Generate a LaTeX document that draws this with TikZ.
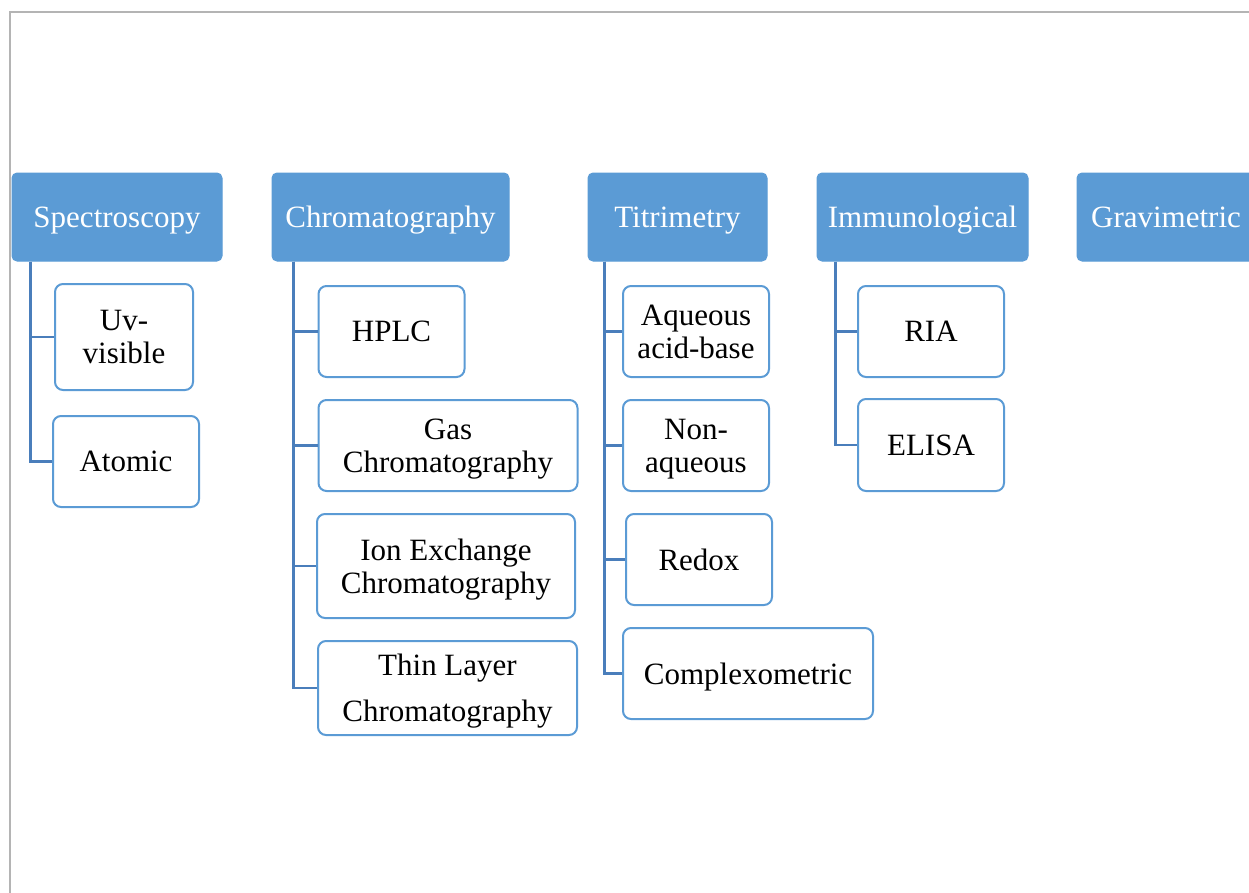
\documentclass[tikz,border=0pt]{standalone}
\usepackage{fontspec}
\setmainfont{Liberation Serif}
\definecolor{hdrblue}{HTML}{5B9BD5}
\definecolor{connblue}{HTML}{4A7EBB}
\definecolor{framegray}{HTML}{B4B4B4}
\tikzset{
  hdr/.style={draw=hdrblue, fill=hdrblue, rounded corners=5pt, text=white, inner sep=0pt, line width=1pt,
    font=\fontsize{31}{34}\selectfont, text height=24pt, text depth=4pt},
  kid/.style={draw=hdrblue, fill=white, rounded corners=8pt, text=black, inner sep=0pt, line width=2pt,
    font=\fontsize{31}{33}\selectfont, align=center, text depth=0pt},
  conn/.style={draw=connblue, line width=2.6pt},
}
\begin{document}
\begin{tikzpicture}[x=1pt, y=-1pt]
\useasboundingbox (0,0) rectangle (1249,892);
\clip (0,0) rectangle (1249,892);
\draw[framegray, line width=2pt] (10,893) -- (10,12) -- (1250,12);

% headers
\node[hdr, minimum width=210pt, minimum height=88pt] (spec) at (117,217) {Spectroscopy};
\node[hdr, minimum width=237pt, minimum height=88pt] (chrom) at (390.5,217) {Chromatography};
\node[hdr, minimum width=179pt, minimum height=88pt] (titr) at (677.5,217) {Titrimetry};
\node[hdr, minimum width=211pt, minimum height=88pt] (immu) at (922.5,217) {Immunological};
\node[hdr, minimum width=178pt, minimum height=88pt] (grav) at (1166,217) {Gravimetric};

% spectroscopy children
\node[kid, minimum width=138pt, minimum height=106pt] (uv) at (124,337) {Uv-\\visible};
\node[kid, minimum width=146pt, minimum height=91pt] (atomic) at (126,461.5) {Atomic};

% chromatography children
\node[kid, minimum width=146pt, minimum height=91pt] (hplc) at (391.5,331.5) {HPLC};
\node[kid, minimum width=259pt, minimum height=91pt] (gas) at (448,445.5) {Gas\\Chromatography};
\node[kid, minimum width=258pt, minimum height=104pt] (ion) at (446,566) {Ion Exchange\\Chromatography};
\node[kid, minimum width=259pt, minimum height=94pt, font=\fontsize{31}{46}\selectfont] (tlc) at (447.5,688) {Thin Layer\\Chromatography};

% titrimetry children
\node[kid, minimum width=146pt, minimum height=91pt] (aq) at (696,331.5) {Aqueous\\acid-base};
\node[kid, minimum width=146pt, minimum height=91pt] (nonaq) at (696,445.5) {Non-\\aqueous};
\node[kid, minimum width=146pt, minimum height=91pt] (redox) at (699,559.5) {Redox};
\node[kid, minimum width=250pt, minimum height=91pt] (complex) at (748,673.5) {Complexometric};

% immunological children
\node[kid, minimum width=146pt, minimum height=91pt] (ria) at (931,331.5) {RIA};
\node[kid, minimum width=146pt, minimum height=92pt] (elisa) at (931,445) {ELISA};

% connectors
\draw[conn] ([xshift=19pt]spec.south west) |- (uv.west);
\draw[conn] ([xshift=19pt]spec.south west) |- (atomic.west);

\draw[conn] ([xshift=22pt]chrom.south west) |- (hplc.west);
\draw[conn] ([xshift=22pt]chrom.south west) |- (gas.west);
\draw[conn] ([xshift=22pt]chrom.south west) |- (ion.west);
\draw[conn] ([xshift=22pt]chrom.south west) |- (tlc.west);

\draw[conn] ([xshift=17pt]titr.south west) |- (aq.west);
\draw[conn] ([xshift=17pt]titr.south west) |- (nonaq.west);
\draw[conn] ([xshift=17pt]titr.south west) |- (redox.west);
\draw[conn] ([xshift=17pt]titr.south west) |- (complex.west);

\draw[conn] ([xshift=19pt]immu.south west) |- (ria.west);
\draw[conn] ([xshift=19pt]immu.south west) |- (elisa.west);
\end{tikzpicture}
\end{document}
